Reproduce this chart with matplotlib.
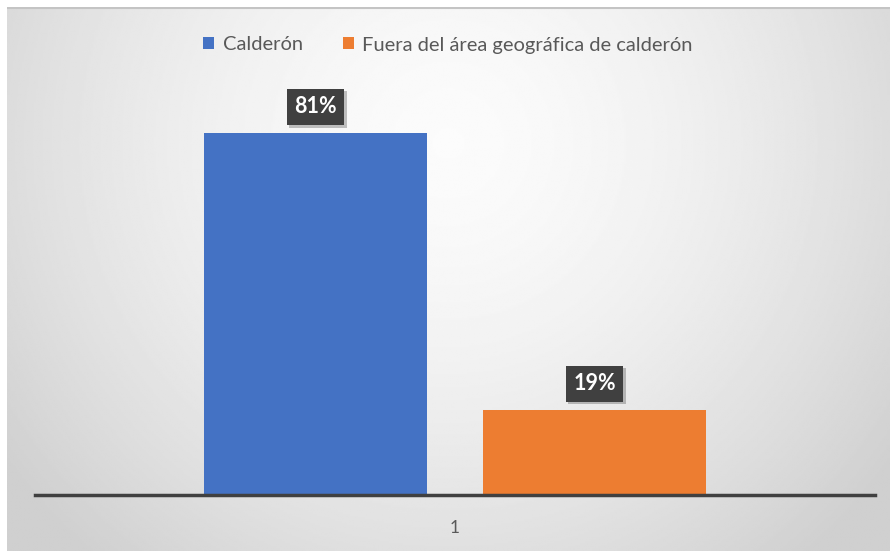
import numpy as np
import matplotlib
matplotlib.use("Agg")
import matplotlib.pyplot as plt
import matplotlib.patheffects as pe

categories = ["1"]
series_names = ["Calderón", "Fuera del área geográfica de calderón"]
series_values = [81, 19]
series_colors = ["#4472C4", "#ED7D31"]

plt.rcParams["font.family"] = ["Lato", "DejaVu Sans"]

W, H = 890, 551
fig = plt.figure(figsize=(W / 100, H / 100), dpi=100)
fig.patch.set_facecolor("white")

# chart area background: soft radial gradient, white centre to grey edges
bg = fig.add_axes([7 / W, 0, (W - 7) / W, (H - 7) / H])
yy, xx = np.mgrid[0:1:300j, 0:1:500j]
r = np.sqrt(((xx - 0.5) / 0.62) ** 2 + ((yy - 0.25) / 1.0) ** 2)
shade = 0.985 - 0.17 * np.clip(r, 0, 1) ** 1.6
bg.imshow(shade, cmap="gray", vmin=0, vmax=1, extent=[0, 1, 0, 1],
          origin="upper", aspect="auto", interpolation="bilinear")
bg.plot([0, 1], [0.998, 0.998], color="#c4c4c4", lw=1.5, transform=bg.transAxes)
bg.set_axis_off()

ax = fig.add_axes([35 / W, (H - 495) / H, 840 / W, (495 - 93) / H])
ax.set_facecolor("none")

width = 0.2655
offsets = [-0.166, 0.166]
x = np.arange(len(categories))
for name, val, col, off in zip(series_names, series_values, series_colors, offsets):
    bars = ax.bar(x + off, [val], width, color=col, label=name, zorder=2,
                  path_effects=[pe.SimplePatchShadow(offset=(0, 0), shadow_rgbFace="#999999", alpha=0.35),
                                pe.Normal()])
    for b in bars:
        ax.annotate(f"{val}%", (b.get_x() + b.get_width() / 2, b.get_height()),
                    xytext=(0, 11.5), textcoords="offset points", ha="center", va="bottom",
                    fontsize=15.5, fontweight="bold", color="white", zorder=4,
                    bbox=dict(boxstyle="square,pad=0.35", fc="#404040", ec="none",
                              path_effects=[pe.SimplePatchShadow(offset=(2, -2), alpha=0.25),
                                            pe.Normal()]))

ax.set_xlim(-0.5, 0.5)
ax.set_ylim(0, 90)
ax.set_yticks([])
ax.set_xticks(x)
ax.set_xticklabels(categories, fontsize=12.5, color="#595959")
ax.tick_params(axis="x", length=0, pad=18)
for s in ["top", "right", "left"]:
    ax.spines[s].set_visible(False)
ax.spines["bottom"].set_color("#404040")
ax.spines["bottom"].set_linewidth(2.5)
ax.spines["bottom"].set_zorder(3)

leg = fig.legend(loc="center", bbox_to_anchor=(448 / W, 1 - 45 / H), ncol=2,
                 frameon=False, fontsize=14.5, handlelength=0.55, handleheight=0.55,
                 handletextpad=0.4, columnspacing=2.0)
for t in leg.get_texts():
    t.set_color("#595959")

fig.savefig("out.png", dpi=100)
